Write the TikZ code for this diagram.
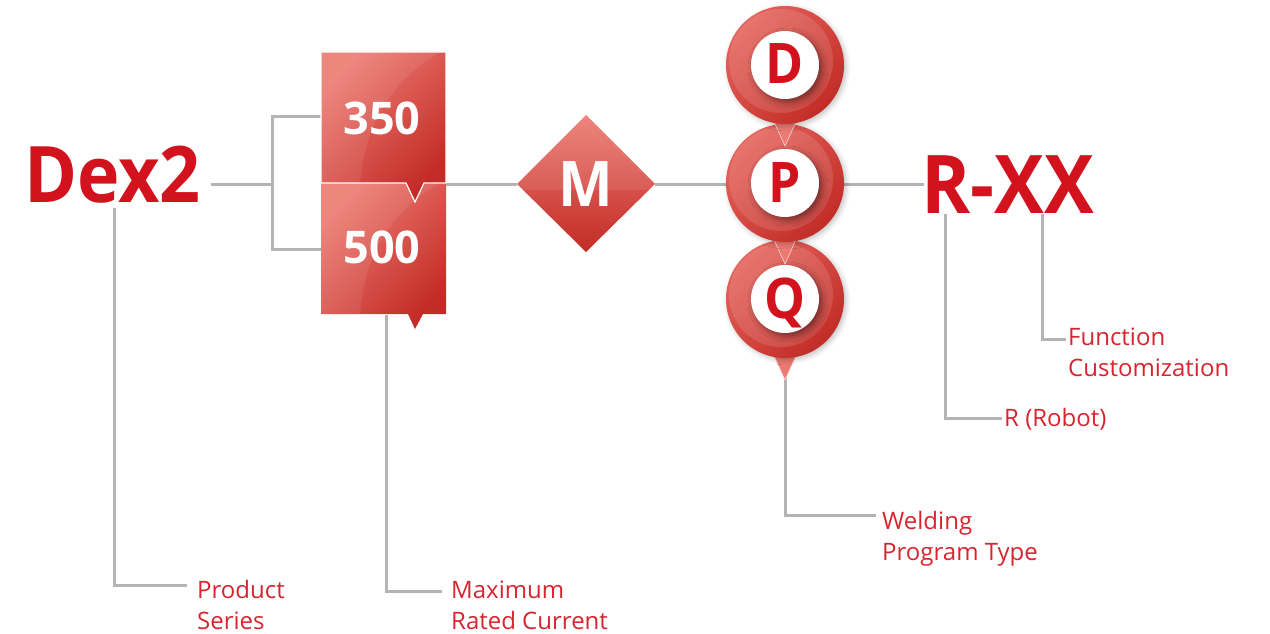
\documentclass[tikz,border=0pt]{standalone}
\usepackage{fontspec}
\setmainfont{Open Sans}
\newfontfamily\heavy{Open Sans}[FakeStretch=0.92]
\usetikzlibrary{shadows.blur}
\definecolor{bigred}{HTML}{D2131D}
\definecolor{labred}{HTML}{D8242E}
\definecolor{lineg}{HTML}{B4B4B4}
\definecolor{lite}{HTML}{EC7C73}
\definecolor{darkr}{HTML}{C32B26}
\definecolor{ringl}{HTML}{E4625A}
\definecolor{ringd}{HTML}{C22C27}
\definecolor{tailc}{HTML}{EB7A72}
\newcommand\mypin[4]{%
  \path[fill=tailc, draw=white!70!tailc, line width=0.6pt] ({#1-15},{#2+48}) -- ({#1+15},{#2+48}) -- (#1,{#2+81}) -- cycle;
  \path[top color=ringl, bottom color=ringd, shading angle=45,
        blur shadow={shadow xshift=2pt, shadow yshift=-2pt, shadow blur radius=5pt, shadow opacity=25}]
        (#1,#2) circle (59);
  \fill[white, opacity=0.12] ({#1-4},{#2-4}) circle (52);
  \fill[white, blur shadow={shadow xshift=3pt, shadow yshift=-3pt, shadow blur radius=6pt, shadow opacity=45}]
        (#1,#2) circle (34);
  \node[pinletter] (#4) at (#1,{#2+19}) {#3};
}
\begin{document}
\begin{tikzpicture}[x=1pt,y=-1pt,
  lead/.style={draw=lineg, line width=3pt},
  lab/.style={anchor=base west, inner sep=0pt, text=labred, font=\fontsize{24}{31}\selectfont, align=left},
  bigtxt/.style={anchor=base west, inner sep=0pt, text=bigred, font=\heavy\bfseries\fontsize{78}{80}\selectfont},
  boxtxt/.style={anchor=base, inner sep=0pt, text=white, font=\bfseries\fontsize{45}{50}\selectfont},
  pinletter/.style={anchor=base, inner sep=0pt, text=bigred, font=\heavy\bfseries\fontsize{56}{58}\selectfont},
  boxfill/.style={top color=lite, bottom color=darkr, shading angle=45},
  gloss/.style={white, opacity=0.08}
]
\useasboundingbox (0,0) rectangle (1270,634);

% coordinates for connectors
\coordinate (dexE) at (211,184);
\coordinate (brM) at (272,184);
\coordinate (brT) at (272,116);
\coordinate (brB) at (272,249);
\coordinate (b350W) at (321,116);
\coordinate (b500W) at (321,249);
\coordinate (boxE) at (446,184);
\coordinate (mW) at (517,184);
\coordinate (mE) at (655,184);
\coordinate (pW) at (726,184);
\coordinate (pE) at (844,184);
\coordinate (rxW) at (924,184);
\coordinate (dexB) at (114,208);
\coordinate (psT) at (187,585);
\coordinate (b500B) at (386,315);
\coordinate (mrT) at (442,591);
\coordinate (qTip) at (785,378);
\coordinate (wpT) at (876,515);
\coordinate (rB) at (945,214);
\coordinate (rrT) at (1002,418);
\coordinate (xB) at (1042,214);
\coordinate (fcT) at (1066,339);

% connectors
\draw[lead] (dexE) -- (brM);
\draw[lead] (b350W) -- (brT) -- (brB) -- (b500W);
\draw[lead] (boxE) -- (mW);
\draw[lead] (mE) -- (pW);
\draw[lead] (pE) -- (rxW);
\draw[lead] (dexB) |- (psT);
\draw[lead] (b500B) |- (mrT);
\draw[lead] (qTip) |- (wpT);
\draw[lead] (rB) |- (rrT);
\draw[lead] (xB) |- (fcT);

% Dex2
\node[bigtxt] (dex) at (24,202) {Dex2};

% 500 box
\path[boxfill] (321,183) -- (446,183) -- (446,314) -- (423,314) -- (415,329) -- (408,314) -- (321,314) -- cycle;
\begin{scope}
  \clip (321,183) rectangle (446,314);
  \fill[gloss] (321,183) -- (440,183) .. controls (385,215) and (365,260) .. (360,314) -- (321,314) -- cycle;
\end{scope}
\node[boxtxt] (n500) at (382,263) {500};

% 350 box
\path[boxfill, draw=white, line width=1.2pt] (321,52) -- (446,52) -- (446,183) -- (424,183) -- (415,202) -- (406,183) -- (321,183) -- cycle;
\begin{scope}
  \clip (321,52) rectangle (446,183);
  \fill[gloss] (321,52) -- (440,52) .. controls (385,85) and (365,130) .. (360,183) -- (321,183) -- cycle;
\end{scope}
\node[boxtxt] (n350) at (382,135) {350};

% M diamond
\path[top color=lite, bottom color=darkr] (586,115) -- (655,184) -- (586,252) -- (517,184) -- cycle;
\begin{scope}
  \clip (586,115) -- (655,184) -- (586,252) -- (517,184) -- cycle;
  \fill[gloss] (517,115) rectangle (655,190);
\end{scope}
\node[boxtxt, font=\heavy\bfseries\fontsize{63}{66}\selectfont] (m) at (586,206) {M};

% pins
\mypin{785}{299}{Q}{q}
\mypin{785}{183}{P}{p}
\mypin{785}{65}{D}{d}

% R-XX
\node[bigtxt, font=\heavy\bfseries\fontsize{81}{84}\selectfont] (rxx) at (921,213) {R-XX};

% labels (base = baseline of last line)
\node[lab] (ps) at (197,629) {Product\\Series};
\node[lab] (mr) at (451,629) {Maximum\\Rated Current};
\node[lab] (wp) at (882,560) {Welding\\Program Type};
\node[lab] (rr) at (1004,426) {R (Robot)};
\node[lab] (fc) at (1068,376) {Function\\Customization};
\end{tikzpicture}
\end{document}
